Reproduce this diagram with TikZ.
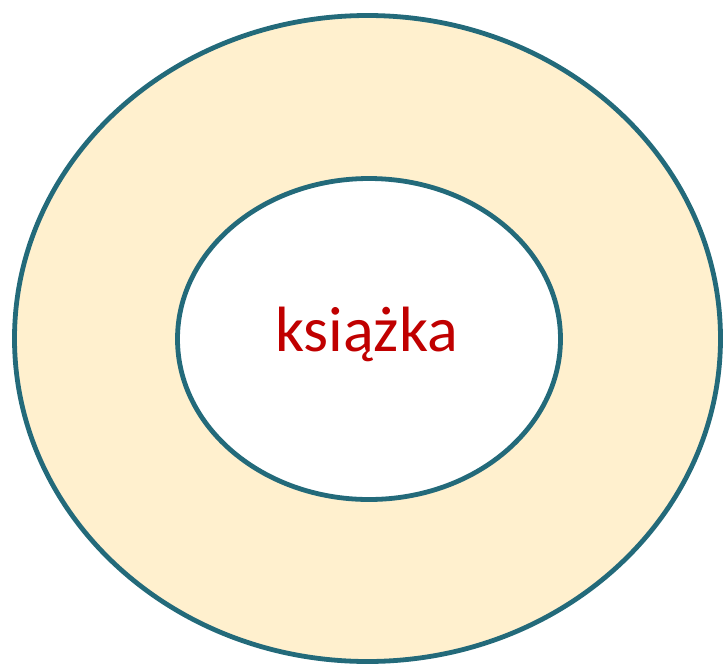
\documentclass[tikz,border=0pt]{standalone}
\usepackage{fontspec}
\setmainfont{Carlito}
\usetikzlibrary{shapes.geometric}
\definecolor{ringline}{HTML}{236A7A}
\definecolor{ringfill}{HTML}{FFF0CE}
\definecolor{wordred}{HTML}{C00000}
\begin{document}
\begin{tikzpicture}[x=1pt,y=-1pt,
  ring/.style={draw=ringline,line width=4.8pt}]
\useasboundingbox (0,0) rectangle (724,665);
\node[ring,fill=ringfill,ellipse,minimum width=706pt,minimum height=646pt,inner sep=0pt] (outer) at (367.5,338.5) {};
\node[ring,fill=white,ellipse,minimum width=383pt,minimum height=321pt,inner sep=0pt] (inner) at (369,339) {};
\node[text=wordred,font=\fontsize{64}{76}\selectfont] (word) at (366.5,334) {książka};
\end{tikzpicture}
\end{document}
